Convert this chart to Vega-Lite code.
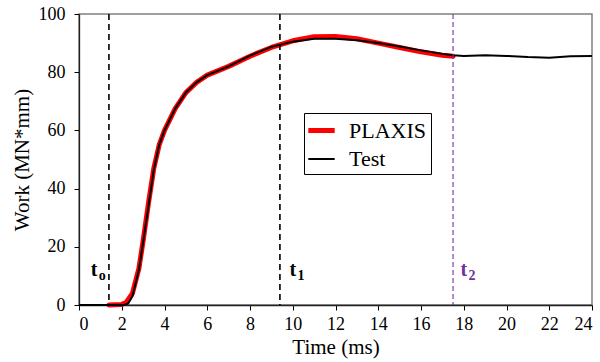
{
  "$schema": "https://vega.github.io/schema/vega-lite/v6.json",
  "autosize": "none",
  "width": 513,
  "height": 291,
  "padding": {"left": 79, "top": 14, "right": 8, "bottom": 57},
  "background": "white",
  "config": {
    "font": "Liberation Serif",
    "view": {"stroke": "#808080", "strokeWidth": 1.5},
    "style": {"guide-label": {"font": "Liberation Serif", "fontSize": 18, "fill": "black"}, "guide-title": {"font": "Liberation Serif", "fontSize": 21, "fontWeight": "normal", "fill": "black"}},
    "axis": {"grid": false, "labelFont": "Liberation Serif", "titleFont": "Liberation Serif", "labelFontSize": 18, "titleFontSize": 21, "titleFontWeight": "normal", "labelColor": "black", "titleColor": "black", "domainColor": "#222222", "domainWidth": 1.3, "tickColor": "black", "tickSize": 5},
    "legend": {"labelFont": "Liberation Serif"},
    "text": {"font": "Liberation Serif"}
  },
  "datasets": {
    "curves": [
      {"series": "PLAXIS", "time": 1.4, "work": 0},
      {"series": "PLAXIS", "time": 2.0, "work": 0.2},
      {"series": "PLAXIS", "time": 2.2, "work": 0.8},
      {"series": "PLAXIS", "time": 2.5, "work": 4},
      {"series": "PLAXIS", "time": 2.8, "work": 12.5},
      {"series": "PLAXIS", "time": 3.0, "work": 22},
      {"series": "PLAXIS", "time": 3.25, "work": 35},
      {"series": "PLAXIS", "time": 3.5, "work": 47},
      {"series": "PLAXIS", "time": 3.75, "work": 55},
      {"series": "PLAXIS", "time": 4.0, "work": 60},
      {"series": "PLAXIS", "time": 4.5, "work": 67.5},
      {"series": "PLAXIS", "time": 5.0, "work": 73},
      {"series": "PLAXIS", "time": 5.5, "work": 76.5},
      {"series": "PLAXIS", "time": 6, "work": 79},
      {"series": "PLAXIS", "time": 7, "work": 82},
      {"series": "PLAXIS", "time": 8, "work": 85.5},
      {"series": "PLAXIS", "time": 9, "work": 88.5},
      {"series": "PLAXIS", "time": 10, "work": 90.8},
      {"series": "PLAXIS", "time": 11, "work": 92.2},
      {"series": "PLAXIS", "time": 12, "work": 92.3},
      {"series": "PLAXIS", "time": 13, "work": 91.5},
      {"series": "PLAXIS", "time": 14, "work": 90},
      {"series": "PLAXIS", "time": 15, "work": 88.5},
      {"series": "PLAXIS", "time": 16, "work": 87},
      {"series": "PLAXIS", "time": 17, "work": 85.8},
      {"series": "PLAXIS", "time": 17.5, "work": 85.5},
      {"series": "Test", "time": 0, "work": 0},
      {"series": "Test", "time": 1.4, "work": 0},
      {"series": "Test", "time": 2.1, "work": 0},
      {"series": "Test", "time": 2.3, "work": 0.5},
      {"series": "Test", "time": 2.5, "work": 3},
      {"series": "Test", "time": 2.8, "work": 12},
      {"series": "Test", "time": 3.0, "work": 21.5},
      {"series": "Test", "time": 3.25, "work": 34},
      {"series": "Test", "time": 3.5, "work": 46.5},
      {"series": "Test", "time": 3.75, "work": 55},
      {"series": "Test", "time": 4.0, "work": 60},
      {"series": "Test", "time": 4.5, "work": 67.5},
      {"series": "Test", "time": 5.0, "work": 73},
      {"series": "Test", "time": 5.5, "work": 76.5},
      {"series": "Test", "time": 6, "work": 79},
      {"series": "Test", "time": 7, "work": 82},
      {"series": "Test", "time": 8, "work": 85.7},
      {"series": "Test", "time": 9, "work": 88.7},
      {"series": "Test", "time": 10, "work": 90.5},
      {"series": "Test", "time": 11, "work": 91.5},
      {"series": "Test", "time": 12, "work": 91.5},
      {"series": "Test", "time": 13, "work": 91},
      {"series": "Test", "time": 14, "work": 90},
      {"series": "Test", "time": 15, "work": 88.8},
      {"series": "Test", "time": 16, "work": 87.5},
      {"series": "Test", "time": 17, "work": 86.3},
      {"series": "Test", "time": 17.5, "work": 85.8},
      {"series": "Test", "time": 18, "work": 85.6},
      {"series": "Test", "time": 19, "work": 85.8},
      {"series": "Test", "time": 20, "work": 85.6},
      {"series": "Test", "time": 21, "work": 85.2},
      {"series": "Test", "time": 22, "work": 85},
      {"series": "Test", "time": 23, "work": 85.5},
      {"series": "Test", "time": 24, "work": 85.6}
    ],
    "events": [
      {"name": "t0", "time": 1.4, "labelTime": 0.55, "labelWork": 10, "main": "t", "sub": "o"},
      {"name": "t1", "time": 9.4, "labelTime": 9.85, "labelWork": 10, "main": "t", "sub": "1"},
      {"name": "t2", "time": 17.5, "labelTime": 17.85, "labelWork": 10, "main": "t", "sub": "2"}
    ]
  },
  "layer": [
    {
      "data": {"name": "curves"},
      "transform": [{"filter": "datum.series === 'PLAXIS'"}],
      "mark": {"type": "line", "strokeCap": "round", "strokeJoin": "round"},
      "encoding": {
        "x": {"field": "time", "type": "quantitative", "scale": {"domain": [0, 24], "nice": false}, "axis": {"title": "Time (ms)", "values": [0,2,4,6,8,10,12,14,16,18,20,22,24], "titlePadding": 3, "labelPadding": 5, "labelFont": "Liberation Serif", "titleFont": "Liberation Serif"}},
        "y": {"field": "work", "type": "quantitative", "scale": {"domain": [0, 100], "nice": false}, "axis": {"title": "Work (MN*mm)", "values": [0,10,20,30,40,50,60,70,80,90,100], "labelExpr": "datum.value % 20 === 0 ? datum.label : ''", "titlePadding": 6, "labelPadding": 9, "labelFont": "Liberation Serif", "titleFont": "Liberation Serif"}},
        "color": {"field": "series", "type": "nominal", "scale": {"domain": ["PLAXIS", "Test"], "range": ["#ff0000", "#000000"]}, "legend": {"title": null, "orient": "none", "legendX": 225, "legendY": 99, "symbolType": "M-1.2,0H1.2", "symbolSize": 484, "labelFont": "Liberation Serif", "labelFontSize": 22, "labelColor": "black", "strokeColor": "black", "padding": 4, "rowPadding": 5, "labelOffset": 14, "symbolStrokeWidth": 2}},
        "strokeWidth": {"field": "series", "type": "nominal", "scale": {"domain": ["PLAXIS", "Test"], "range": [5, 2]}, "legend": null}
      }
    },
    {
      "data": {"name": "curves"},
      "transform": [{"filter": "datum.series === 'Test'"}],
      "mark": {"type": "line", "strokeJoin": "round"},
      "encoding": {
        "x": {"field": "time", "type": "quantitative"},
        "y": {"field": "work", "type": "quantitative"},
        "color": {"field": "series", "type": "nominal"},
        "strokeWidth": {"field": "series", "type": "nominal", "legend": null}
      }
    },
    {
      "data": {"name": "events"},
      "transform": [{"filter": "datum.name !== 't2'"}],
      "mark": {"type": "rule", "color": "black", "strokeWidth": 1.6, "strokeDash": [6, 4]},
      "encoding": {"x": {"field": "time", "type": "quantitative"}}
    },
    {
      "data": {"name": "events"},
      "transform": [{"filter": "datum.name === 't2'"}],
      "mark": {"type": "rule", "color": "#7030A0", "strokeWidth": 1.1, "strokeDash": [5, 3]},
      "encoding": {"x": {"field": "time", "type": "quantitative"}}
    },
    {
      "data": {"name": "events"},
      "mark": {"type": "text", "align": "left", "baseline": "alphabetic", "fontSize": 20, "fontWeight": "bold", "font": "Liberation Serif"},
      "encoding": {
        "x": {"field": "labelTime", "type": "quantitative"},
        "y": {"field": "labelWork", "type": "quantitative"},
        "text": {"field": "main"},
        "color": {"condition": {"test": "datum.name === 't2'", "value": "#7030A0"}, "value": "black"}
      }
    },
    {
      "data": {"name": "events"},
      "mark": {"type": "text", "align": "left", "baseline": "alphabetic", "fontSize": 14, "fontWeight": "bold", "dx": 8, "dy": 4, "font": "Liberation Serif"},
      "encoding": {
        "x": {"field": "labelTime", "type": "quantitative"},
        "y": {"field": "labelWork", "type": "quantitative"},
        "text": {"field": "sub"},
        "color": {"condition": {"test": "datum.name === 't2'", "value": "#7030A0"}, "value": "black"}
      }
    }
  ]
}
